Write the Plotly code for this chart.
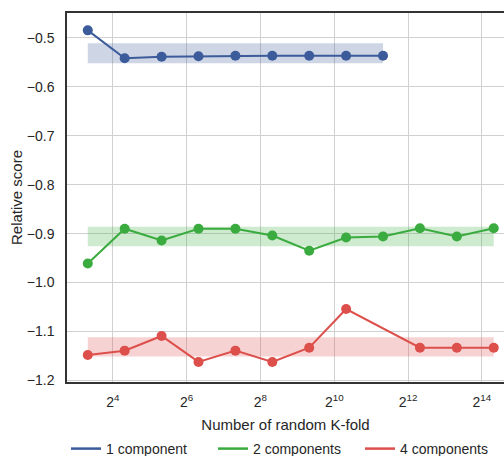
import math
import plotly.graph_objects as go

# ---- data ----
x_blue = [10, 20, 40, 80, 160, 320, 640, 1280, 2560]
y_blue = [-0.485, -0.542, -0.539, -0.538, -0.537, -0.537, -0.537, -0.537, -0.537]
band_blue = [-0.552, -0.5115]

x_green = [10, 20, 40, 80, 160, 320, 640, 1280, 2560, 5120, 10240, 20480]
y_green = [-0.961, -0.890, -0.914, -0.890, -0.890, -0.904, -0.935, -0.908, -0.906, -0.889, -0.906, -0.889]
band_green = [-0.926, -0.886]

x_red = [10, 20, 40, 80, 160, 320, 640, 1280, 5120, 10240, 20480]
y_red = [-1.148, -1.139, -1.109, -1.162, -1.139, -1.162, -1.133, -1.054, -1.133, -1.133, -1.133]
band_red = [-1.151, -1.1115]

labels = ["1 component", "2 components", "4 components"]
colors = ["#3b5b9a", "#3aab3e", "#dd4f4b"]
fills = ["rgba(59,91,154,0.25)", "rgba(58,171,62,0.25)", "rgba(221,79,75,0.25)"]

xtick_vals = [16, 64, 256, 1024, 4096, 16384]
xtick_text = ["2<sup>4</sup>", "2<sup>6</sup>", "2<sup>8</sup>", "2<sup>10</sup>", "2<sup>12</sup>", "2<sup>14</sup>"]
ytick_vals = [-0.5, -0.6, -0.7, -0.8, -0.9, -1.0, -1.1, -1.2]

fig = go.Figure()
series = [(x_blue, y_blue, band_blue), (x_green, y_green, band_green), (x_red, y_red, band_red)]
for (xs, ys, band), lab, col, fc in zip(series, labels, colors, fills):
    xb = [xs[0], xs[-1]]
    fig.add_trace(go.Scatter(x=xb, y=[band[0]] * 2, mode="lines", line=dict(width=0),
                             showlegend=False, hoverinfo="skip"))
    fig.add_trace(go.Scatter(x=xb, y=[band[1]] * 2, mode="lines", line=dict(width=0),
                             fill="tonexty", fillcolor=fc, showlegend=False, hoverinfo="skip"))
for (xs, ys, band), lab, col in zip(series, labels, colors):
    fig.add_trace(go.Scatter(x=xs, y=ys, mode="lines+markers", name=lab,
                             line=dict(color=col, width=2),
                             marker=dict(color=col, size=10), showlegend=False))
    # legend entry shows a line only
    fig.add_trace(go.Scatter(x=[None], y=[None], mode="lines", name=lab,
                             line=dict(color=col, width=2.5)))

l2 = math.log10(2)
fig.update_layout(
    width=504, height=456,
    margin=dict(l=67, r=0, t=13, b=74),
    plot_bgcolor="white", paper_bgcolor="white",
    font=dict(family="Liberation Sans, Arial, sans-serif", size=14, color="#262626"),
    showlegend=True,
    legend=dict(orientation="h", xref="container", yref="container",
                x=66 / 504, y=(456 - 449) / 456, xanchor="left", yanchor="middle",
                font=dict(size=14), traceorder="normal",
                entrywidth=102, entrywidthmode="pixels"),
    xaxis=dict(type="log", range=[2.759 * l2, 14.60 * l2],
               tickvals=xtick_vals, ticktext=xtick_text,
               showgrid=True, gridcolor="#d0d0d0", gridwidth=1,
               showline=True, linecolor="#333333", linewidth=1.5, mirror=True,
               ticks="", zeroline=False, automargin=False, ticklabelstandoff=6,
               title=dict(text="Number of random K-fold", standoff=13, font=dict(size=15))),
    yaxis=dict(range=[-1.203, -0.4496], tickvals=ytick_vals, tickformat=".1f",
               showgrid=True, gridcolor="#d0d0d0", gridwidth=1,
               showline=True, linecolor="#333333", linewidth=1.5,
               ticks="", zeroline=False, ticklabelstandoff=8, automargin=False,
               title=dict(text="Relative score", standoff=1, font=dict(size=15))),
)

fig.write_html("out.html", config={"displayModeBar": False},
               post_script="document.body.style.margin='0';document.body.style.overflow='hidden';")
